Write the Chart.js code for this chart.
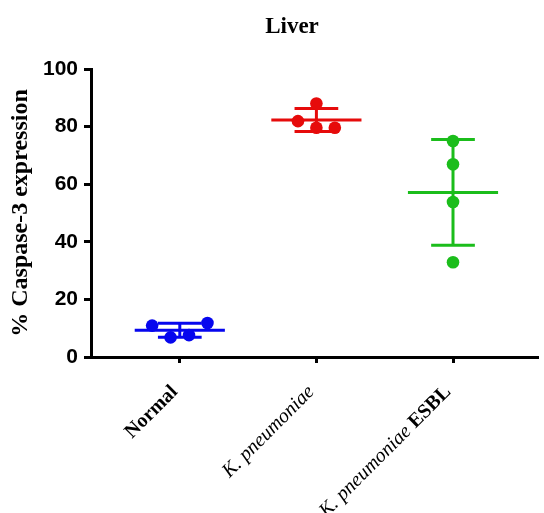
<!DOCTYPE html>
<html>
<head>
<meta charset="utf-8">
<script src="https://cdn.jsdelivr.net/npm/chart.js@4"></script>
<style>
  body { margin: 0; background: #fff; }
</style>
</head>
<body>
<canvas id="liverChart" width="544" height="513"></canvas>
<script>
// values
const groups = ['Normal', 'K. pneumoniae', 'K. pneumoniae ESBL'];
const normalValues = [10.9, 6.8, 7.6, 11.8];
const kpValues = [81.9, 88.0, 79.6, 79.6];
const esblValues = [75.0, 66.9, 53.8, 32.9];
const yTicks = [0, 20, 40, 60, 80, 100];
const groupColors = ['#0606ee', '#e60b0b', '#1bbd1b'];

// x labels mix italic species names with bold text
const labelParts = [
  [{ text: 'Normal', style: 'bold' }],
  [{ text: 'K. pneumoniae', style: 'italic' }],
  [{ text: 'K. pneumoniae ', style: 'italic' }, { text: 'ESBL', style: 'bold' }]
];

const allValues = [normalValues, kpValues, esblValues];

function mean(arr) {
  return arr.reduce((a, b) => a + b, 0) / arr.length;
}

function sd(arr) {
  const m = mean(arr);
  return Math.sqrt(arr.reduce((a, b) => a + (b - m) * (b - m), 0) / (arr.length - 1));
}

// points that overlap vertically are spread sideways in a row (like Prism does)
function swarm(values, center) {
  const order = values.map((v, i) => i).sort((a, b) => values[a] - values[b]);
  const rows = [[order[0]]];
  for (let k = 1; k < order.length; k++) {
    const prev = order[k - 1];
    if (values[order[k]] - values[prev] < 4.5) {
      rows[rows.length - 1].push(order[k]);
    } else {
      rows.push([order[k]]);
    }
  }
  const pts = [];
  rows.forEach(row => {
    row.sort((a, b) => a - b);
    row.forEach((i, k) => {
      pts[i] = { x: center + (k - (row.length - 1) / 2) * 0.135, y: values[i] };
    });
  });
  return pts;
}

function errorBars(values, center) {
  const m = mean(values);
  const s = sd(values);
  return [
    { x: center - 0.33, y: m }, { x: center + 0.33, y: m }, { x: center, y: null },
    { x: center - 0.16, y: m + s }, { x: center + 0.16, y: m + s }, { x: center, y: null },
    { x: center - 0.16, y: m - s }, { x: center + 0.16, y: m - s }, { x: center, y: null },
    { x: center, y: m - s }, { x: center, y: m + s }
  ];
}

const datasets = [];
allValues.forEach((vals, i) => {
  datasets.push({
    type: 'scatter',
    data: swarm(vals, i + 1),
    backgroundColor: groupColors[i],
    borderWidth: 0,
    pointRadius: 6.3,
    order: 0
  });
  datasets.push({
    type: 'line',
    data: errorBars(vals, i + 1),
    borderColor: groupColors[i],
    borderWidth: 3,
    pointRadius: 0,
    showLine: true,
    spanGaps: false,
    fill: false,
    order: 1
  });
});

const labelsPlugin = {
  id: 'labelsPlugin',
  afterDraw(chart) {
    const ctx = chart.ctx;
    const xScale = chart.scales.x;
    ctx.save();
    ctx.fillStyle = '#000';
    ctx.textBaseline = 'middle';

    ctx.textAlign = 'center';
    ctx.font = 'bold 23px "Liberation Serif"';
    ctx.fillText('Liver', 292, 27);

    labelParts.forEach((parts, i) => {
      const px = xScale.getPixelForValue(i + 1);
      ctx.save();
      ctx.translate(px - 5, 389);
      ctx.rotate(-Math.PI / 4);
      ctx.textAlign = 'right';
      let cursor = 0;
      for (let k = parts.length - 1; k >= 0; k--) {
        ctx.font = parts[k].style + ' 20px "Liberation Serif"';
        ctx.fillText(parts[k].text, cursor, 0);
        cursor -= ctx.measureText(parts[k].text).width;
      }
      ctx.restore();
    });
    ctx.restore();
  }
};

new Chart(document.getElementById('liverChart'), {
  type: 'scatter',
  data: { datasets: datasets },
  options: {
    responsive: false,
    animation: false,
    events: [],
    layout: { padding: { top: 69, right: 0, left: 0, bottom: 0 } },
    scales: {
      x: {
        type: 'linear',
        min: 0.35,
        max: 3.62,
        afterBuildTicks: (s) => { s.ticks = groups.map((g, i) => ({ value: i + 1 })); },
        afterFit: (s) => { s.height = 156; },
        ticks: { display: false },
        grid: { drawOnChartArea: false, drawTicks: true, tickLength: 6, color: '#000', lineWidth: 3 },
        border: { color: '#000', width: 3 }
      },
      y: {
        min: 0,
        max: 100,
        afterBuildTicks: (s) => { s.ticks = yTicks.map(v => ({ value: v })); },
        afterFit: (s) => { s.width = 91; },
        ticks: {
          color: '#000',
          padding: 6,
          font: { family: 'Liberation Sans', size: 21, weight: 'bold' }
        },
        grid: { drawOnChartArea: false, drawTicks: true, tickLength: 7, color: '#000', lineWidth: 3 },
        border: { color: '#000', width: 3 },
        title: {
          display: true,
          text: '% Caspase-3 expression',
          color: '#000',
          font: { family: 'Liberation Serif', size: 24, weight: 'bold' },
          padding: { top: 6, bottom: 0 }
        }
      }
    },
    plugins: {
      legend: { display: false },
      tooltip: { enabled: false },
      title: { display: false }
    }
  },
  plugins: [labelsPlugin]
});
</script>
</body>
</html>
